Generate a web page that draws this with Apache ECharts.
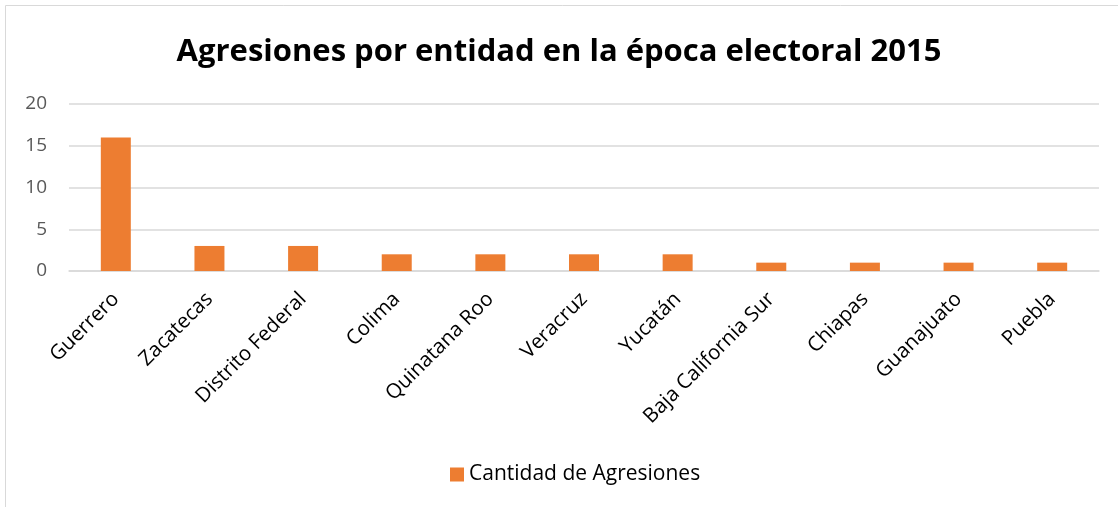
<!DOCTYPE html>
<html>
<head>
<meta charset="utf-8">
<script src="https://cdn.jsdelivr.net/npm/echarts@6/dist/echarts.min.js"></script>
<style>
html,body{margin:0;padding:0;background:#fff;}
#c{width:1118px;height:507px;}
</style>
</head>
<body>
<div id="c"></div>
<script>
const categories = ["Guerrero","Zacatecas","Distrito Federal","Colima","Quinatana Roo","Veracruz","Yucatán","Baja California Sur","Chiapas","Guanajuato","Puebla"];
const values = [16,3,3,2,2,2,2,1,1,1,1];
const seriesName = "Cantidad de Agresiones";
const titleText = "Agresiones por entidad en la época electoral 2015";

const chart = echarts.init(document.getElementById('c'));
chart.setOption({
  animation:false,
  graphic:[{type:'rect',shape:{x:5.5,y:5.5,width:1120,height:510},style:{fill:'none',stroke:'#d9d9d9',lineWidth:1}}],
  title:{text:titleText,left:'center',top:32,textStyle:{fontFamily:'Open Sans',fontWeight:'bold',fontSize:31,color:'#000'}},
  legend:{bottom:17,left:445,itemWidth:14,itemHeight:14,icon:'rect',itemGap:6,
    textStyle:{fontFamily:'Open Sans',fontSize:21,color:'#000'},data:[seriesName]},
  grid:{left:69,right:19,top:104,bottom:236,containLabel:false},
  xAxis:{type:'category',data:categories,
    axisLine:{lineStyle:{color:'#d9d9d9',width:1.5}},axisTick:{show:false},
    axisLabel:{rotate:45,interval:0,fontFamily:'Open Sans',fontSize:20.5,color:'#000',margin:25}},
  yAxis:{type:'value',min:0,max:20,interval:5,
    axisLine:{show:false},axisTick:{show:false},
    splitLine:{lineStyle:{color:'#d9d9d9',width:1.5}},
    axisLabel:{fontFamily:'Open Sans',fontSize:19,color:'#595959',margin:22}},
  series:[{name:seriesName,type:'bar',data:values,barWidth:30,itemStyle:{color:'#ED7D31'}}]
});
</script>
</body>
</html>
